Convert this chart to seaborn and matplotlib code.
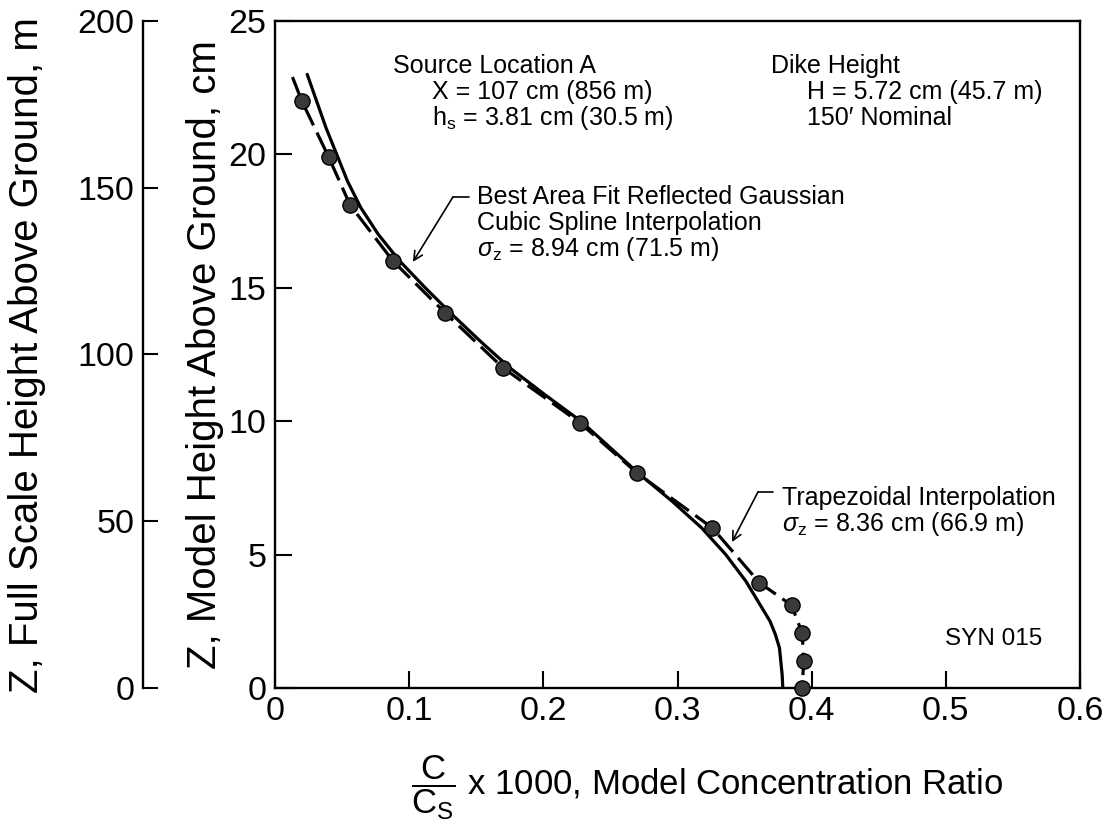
import matplotlib
matplotlib.use("Agg")
import matplotlib.pyplot as plt
import seaborn as sns

# measured points (C/Cs x 1000 vs model height, cm)
point_c = [0.020, 0.040, 0.056, 0.088, 0.127, 0.170, 0.227, 0.270, 0.326, 0.361, 0.385, 0.393, 0.394, 0.393]
point_z = [22.0, 19.9, 18.1, 16.0, 14.05, 12.0, 9.95, 8.05, 6.0, 3.95, 3.1, 2.05, 1.0, 0.0]

# trapezoidal interpolation (dashed)
trap_c = [0.013] + point_c
trap_z = [22.9] + point_z

# best area fit reflected gaussian, cubic spline (solid)
gauss_c = [0.024, 0.031, 0.038, 0.046, 0.054, 0.064, 0.077, 0.093, 0.112, 0.132, 0.153, 0.175,
           0.201, 0.228, 0.250, 0.272, 0.296, 0.318, 0.336, 0.351, 0.363, 0.369, 0.373, 0.376,
           0.377, 0.378, 0.3785]
gauss_z = [23.0, 22.0, 21.0, 20.0, 19.0, 18.0, 17.0, 16.0, 15.0, 14.0, 13.0, 12.0,
           11.0, 10.0, 9.0, 8.0, 7.0, 6.0, 5.0, 4.0, 3.0, 2.5, 2.0, 1.5,
           1.0, 0.5, 0.0]

x_ticks = [0, 0.1, 0.2, 0.3, 0.4, 0.5, 0.6]
x_ticklabels = ["0", "0.1", "0.2", "0.3", "0.4", "0.5", "0.6"]
y_ticks = [0, 5, 10, 15, 20, 25]
full_ticks = [0, 50, 100, 150, 200]

sns.set_theme(style="ticks")
plt.rcParams["font.family"] = ["Liberation Sans", "DejaVu Sans"]
plt.rcParams["mathtext.fontset"] = "custom"
plt.rcParams["mathtext.rm"] = "Liberation Sans"
plt.rcParams["mathtext.it"] = "Liberation Sans:italic"
plt.rcParams["mathtext.bf"] = "Liberation Sans:bold"
plt.rcParams["axes.edgecolor"] = "black"
plt.rcParams["axes.labelcolor"] = "black"
plt.rcParams["text.color"] = "black"

W, H = 1110, 831
fig = plt.figure(figsize=(W / 100, H / 100), dpi=100)
ax = fig.add_axes([275 / W, 1 - 688 / H, 805 / W, 667 / H])
ax2 = fig.add_axes([143 / W, 1 - 688 / H, 0.0005, 667 / H])

sns.lineplot(x=gauss_c, y=gauss_z, sort=False, estimator=None, color="black", lw=2.3, ax=ax)
sns.lineplot(x=trap_c, y=trap_z, sort=False, estimator=None, color="black", lw=2.3,
             linestyle=(0, (7, 2.5)), ax=ax)
sns.scatterplot(x=point_c, y=point_z, s=120, color="#3a3a3a", edgecolor="black",
                linewidth=1.0, zorder=4, clip_on=False, ax=ax)

ax.set_xlim(0, 0.6)
ax.set_ylim(0, 25)
ax.set_xticks(x_ticks)
ax.set_xticklabels(x_ticklabels)
ax.set_yticks(y_ticks)
for s in ax.spines.values():
    s.set_linewidth(1.7)
ax.tick_params(direction="in", length=12, width=1.5, labelsize=24.5, pad=6, colors="black")

ax.set_ylabel("Z, Model Height Above Ground, cm", fontsize=29, va="center")
ax.yaxis.set_label_coords(205 / W, 1 - 355 / H, transform=fig.transFigure)
ax.set_xlabel(r"$\dfrac{\mathrm{C}}{\mathrm{C_S}}$ x 1000, Model Concentration Ratio",
              fontsize=25, va="center")
ax.xaxis.set_label_coords(707 / W, 1 - 788 / H, transform=fig.transFigure)

# full scale axis
ax2.set_ylim(0, 200)
ax2.set_yticks(full_ticks)
ax2.set_xticks([])
ax2.patch.set_visible(False)
for side in ["top", "right", "bottom"]:
    ax2.spines[side].set_visible(False)
ax2.spines["left"].set_linewidth(1.7)
ax2.tick_params(axis="y", direction="in", length=11, width=1.5, labelsize=24.5, pad=6, colors="black")
ax2.set_ylabel("Z, Full Scale Height Above Ground, m", fontsize=29, va="center")
ax2.yaxis.set_label_coords(27 / W, 1 - 355 / H, transform=fig.transFigure)

fs = 18
ax.text(0.088, 23.05, "Source Location A", fontsize=fs, va="baseline")
ax.text(0.117, 22.08, "X = 107 cm (856 m)", fontsize=fs, va="baseline")
ax.text(0.117, 21.1, r"h$_\mathrm{s}$ = 3.81 cm (30.5 m)", fontsize=fs, va="baseline")
ax.text(0.370, 23.05, "Dike Height", fontsize=fs, va="baseline")
ax.text(0.3965, 22.08, "H = 5.72 cm (45.7 m)", fontsize=fs, va="baseline")
ax.text(0.3965, 21.1, "150\u2032 Nominal", fontsize=fs, va="baseline")

ax.text(0.1505, 18.14, "Best Area Fit Reflected Gaussian", fontsize=fs, va="baseline")
ax.text(0.1505, 17.17, "Cubic Spline Interpolation", fontsize=fs, va="baseline")
ax.text(0.1505, 16.19, r"$\sigma_\mathrm{z}$ = 8.94 cm (71.5 m)", fontsize=fs, va="baseline")
ax.plot([0.1327, 0.1446], [18.41, 18.41], color="black", lw=1.2)
ax.annotate("", xy=(0.1028, 15.97), xytext=(0.1327, 18.41),
            arrowprops=dict(arrowstyle="->", lw=1.2, color="black", mutation_scale=16,
                            shrinkA=0, shrinkB=0))

ax.text(0.378, 6.86, "Trapezoidal Interpolation", fontsize=fs, va="baseline")
ax.text(0.378, 5.88, r"$\sigma_\mathrm{z}$ = 8.36 cm (66.9 m)", fontsize=fs, va="baseline")
ax.plot([0.360, 0.371], [7.35, 7.35], color="black", lw=1.2)
ax.annotate("", xy=(0.3406, 5.47), xytext=(0.360, 7.35),
            arrowprops=dict(arrowstyle="->", lw=1.2, color="black", mutation_scale=16,
                            shrinkA=0, shrinkB=0))

ax.text(0.4993, 1.61, "SYN 015", fontsize=17.5, va="baseline")

fig.savefig("out.png", dpi=100)
